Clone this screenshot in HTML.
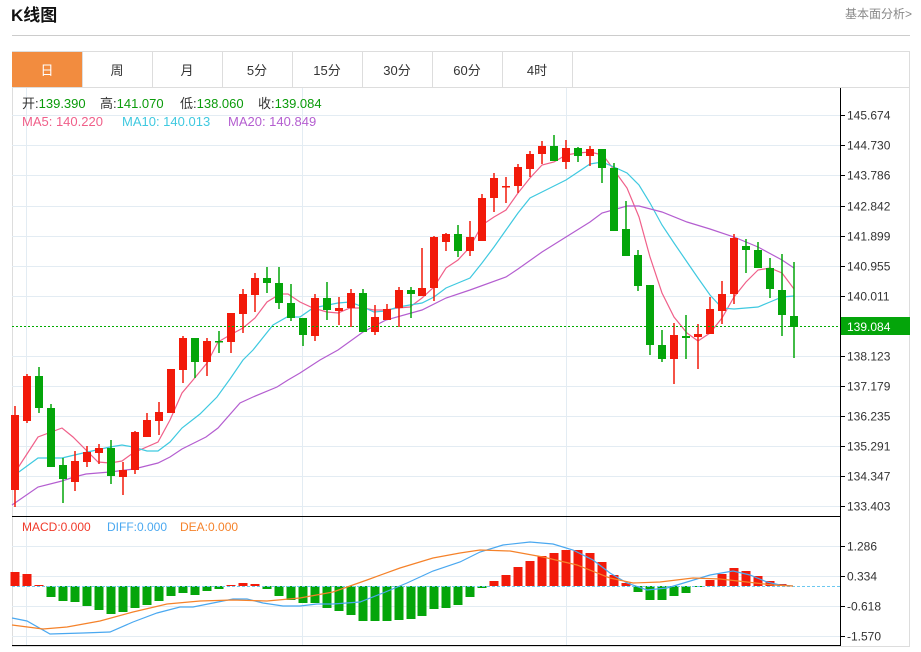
<!DOCTYPE html>
<html><head><meta charset="utf-8">
<style>
body{margin:0;background:#fff;width:921px;height:647px;overflow:hidden;font-family:"Liberation Sans","Noto Sans CJK SC",sans-serif;}
</style></head><body>
<svg id="s" width="921" height="647" xmlns="http://www.w3.org/2000/svg" font-family="Liberation Sans, Noto Sans CJK SC, sans-serif">
<text x="11" y="21" font-size="17" font-weight="bold" fill="#111">K线图</text>
<text x="912" y="18" font-size="12" fill="#888" text-anchor="end">基本面分析&gt;</text>
<line x1="12" y1="35.5" x2="910" y2="35.5" stroke="#ccc"/>
<rect x="12.5" y="51.5" width="897" height="595" fill="none" stroke="#ddd"/>
<line x1="12" y1="87.5" x2="910" y2="87.5" stroke="#ddd"/>
<rect x="12" y="52" width="70" height="35" fill="#f28c3f"/>
<g id="tabs" font-size="13" fill="#333" text-anchor="middle"></g>
<g id="grid"></g>
<g id="ma"></g>
<g id="candles"></g>
<g id="macd"></g>
<line x1="12" y1="516.5" x2="840" y2="516.5" stroke="#000"/>
<line x1="12" y1="645.5" x2="840" y2="645.5" stroke="#000"/>
<line x1="840.5" y1="88" x2="840.5" y2="646" stroke="#000"/>
<line x1="12" y1="326.5" x2="840" y2="326.5" stroke="#0a0" stroke-dasharray="2,2"/>
<rect x="841" y="317" width="69" height="18" fill="#04a50a"/>
<text x="847" y="331" font-size="12" fill="#fff">139.084</text>
<g font-size="13">
<text x="22" y="108" fill="#333">开:<tspan fill="#0a9b0a">139.390</tspan></text>
<text x="100" y="108" fill="#333">高:<tspan fill="#0a9b0a">141.070</tspan></text>
<text x="180" y="108" fill="#333">低:<tspan fill="#0a9b0a">138.060</tspan></text>
<text x="258" y="108" fill="#333">收:<tspan fill="#0a9b0a">139.084</tspan></text>
<text x="22" y="126" fill="#f0608a">MA5: 140.220</text>
<text x="122" y="126" fill="#3fc9e0">MA10: 140.013</text>
<text x="228" y="126" fill="#b45ed0">MA20: 140.849</text>
</g>
<g font-size="12">
<text x="22" y="531" fill="#f03a2a">MACD:0.000</text>
<text x="107" y="531" fill="#4aa8f0">DIFF:0.000</text>
<text x="180" y="531" fill="#f5822a">DEA:0.000</text>
</g>
</svg>
<script>
var NS="http://www.w3.org/2000/svg";
function el(p,t,a,txt){var e=document.createElementNS(NS,t);for(var k in a)e.setAttribute(k,a[k]);if(txt)e.textContent=txt;document.getElementById(p).appendChild(e);return e;}
var tabs=["日","周","月","5分","15分","30分","60分","4时"];
tabs.forEach(function(t,i){var x=12+i*70;el("tabs","line",{x1:x+70.5,y1:52,x2:x+70.5,y2:87,stroke:"#ddd"});el("tabs","text",{x:x+35,y:75,fill:i==0?"#fff":"#333"},t);});
var pl=[["145.674",115],["144.730",145],["143.786",175],["142.842",206],["141.899",236],["140.955",266],["140.011",296],["138.123",356],["137.179",386],["136.235",416],["135.291",446],["134.347",476],["133.403",506]];
pl.forEach(function(p){el("grid","line",{x1:12,y1:p[1]+.5,x2:840,y2:p[1]+.5,stroke:"#e3ecf3"});el("grid","line",{x1:840,y1:p[1]+.5,x2:845,y2:p[1]+.5,stroke:"#000"});el("grid","text",{x:847,y:p[1]+4.5,"font-size":12,fill:"#333"},p[0]);});
[["1.286",546],["0.334",576],["-0.618",606],["-1.570",636]].forEach(function(p){el("grid","line",{x1:12,y1:p[1]+.5,x2:840,y2:p[1]+.5,stroke:"#e3ecf3"});el("grid","line",{x1:840,y1:p[1]+.5,x2:845,y2:p[1]+.5,stroke:"#000"});el("grid","text",{x:847,y:p[1]+4.5,"font-size":12,fill:"#333"},p[0]);});
[26.5,302.5,566.5].forEach(function(x){el("grid","line",{x1:x,y1:88,x2:x,y2:646,stroke:"#e3ecf3"});});
var C=[["r",415,490,406,507],["r",376,421,374,423],["g",376,408,367,413],["g",408,467,404,467],["g",465,479,458,503],["r",461,482,451,491],["r",452,462,446,467],["r",448,453,444,464],["g",448,476,440,484],["r",470,477,462,495],["r",432,470,431,474],["r",420,437,413,437],["r",412,421,402,435],["r",369,413,369,413],["r",338,370,336,383],["g",338,362,338,378],["r",341,362,338,376],["g",341,342,331,353],["r",313,342,313,353],["r",294,314,289,333],["r",278,295,273,312],["g",278,283,267,293],["g",283,303,267,309],["g",303,318,284,321],["g",318,335,318,346],["r",298,336,294,341],["g",298,310,282,320],["r",308,311,297,325],["r",293,308,289,327],["g",293,332,289,332],["r",317,332,305,335],["r",309,320,304,320],["r",290,308,287,327],["g",290,294,287,318],["r",288,296,248,296],["r",237,288,236,301],["r",234,242,233,251],["g",234,251,225,257],["r",237,251,221,256],["r",198,241,194,241],["r",178,198,173,212],["r",186,187,177,203],["r",167,186,164,193],["r",154,169,151,177],["r",146,154,141,164],["g",146,161,135,161],["r",148,162,140,169],["g",148,156,147,162],["r",149,156,146,166],["g",149,168,149,183],["g",168,231,163,231],["g",229,256,201,256],["g",255,286,250,291],["g",285,345,285,355],["g",345,359,330,362],["r",335,359,323,384],["g",336,338,315,359],["r",334,337,324,369],["r",309,334,297,334],["r",294,311,281,324],["r",238,294,234,304],["g",246,250,239,273],["g",250,268,242,268],["g",268,289,258,298],["g",290,315,254,336],["g",316,327,262,358]];
var RED="#f21a0a",GRN="#04a50a";
C.forEach(function(c,i){var x=Math.round(15+i*11.985);var col=c[0]=="r"?RED:GRN;
el("candles","rect",{x:x-0.75,y:c[3],width:1.5,height:c[4]-c[3],fill:col});
el("candles","rect",{x:x-4,y:c[1],width:8,height:Math.max(1.5,c[2]-c[1]),fill:col});});
function pl2(g,pts,col,w){el(g,"polyline",{points:pts,fill:"none",stroke:col,"stroke-width":w||1.2});}
pl2("ma","12,477 38,437 62,428 73,437 98,462 110,463 122,461 133,453 158,442 170,420 182,393 193,380 207,363 218,342 230,335 243,328 255,318 267,302 280,294 288,294 300,302 313,308 327,312 338,313 350,308 363,308 374,310 386,310 398,308 410,307 422,298 434,287 446,268 458,260 470,247 482,225 494,217 506,210 518,193 530,178 542,165 554,162 566,155 578,153 590,152 603,155 614,170 627,188 639,217 650,257 662,293 674,317 687,333 698,341 710,333 722,318 734,297 746,282 758,270 770,268 782,273 794,289","#f0608a");
pl2("ma","12,477 38,458 62,458 83,453 110,447 122,445 133,447 147,451 158,451 170,442 182,428 200,414 217,397 230,379 243,360 253,350 273,325 287,317 300,317 313,308 338,303 350,302 363,307 374,312 386,311 398,307 410,305 422,303 434,297 446,288 458,283 470,278 482,263 494,247 506,230 518,213 530,198 542,192 554,186 566,180 578,172 590,164 602,162 614,167 627,173 639,185 650,203 662,225 674,243 687,262 698,278 710,295 722,308 734,309 746,308 758,307 770,302 782,297 794,296","#3fc9e0");
pl2("ma","12,505 38,487 62,481 74,477 86,474 110,472 134,469 158,463 170,457 182,449 206,437 218,428 240,403 253,397 277,387 288,380 300,373 320,360 338,350 363,332 386,320 422,310 446,298 470,290 506,277 518,269 542,252 566,237 590,222 602,213 627,206 639,206 662,212 687,222 710,229 734,237 758,247 782,260 794,268","#b45ed0");
var M=[572,574,585,597,601,602,606,610,614,612,608,605,601,596,593,595,591,589,585,583,584,589,596,600,603,603,608,611,615,621,621,621,620,619,616,609,608,605,597,588,581,575,567,561,556,553,550,550,553,562,575,583,592,600,600,596,593,587,580,574,568,571,576,581,584,586];
var Z=586;
M.forEach(function(v,i){var x=Math.round(15+i*11.985);if(Math.abs(v-Z)<0.5)return;var col=v<Z?RED:GRN;el("macd","rect",{x:x-4.5,y:Math.min(v,Z),width:9,height:Math.max(1,Math.abs(v-Z)),fill:col});});
el("macd","line",{x1:12,y1:Z+.5,x2:840,y2:Z+.5,stroke:"#6cc8f0","stroke-dasharray":"3,2","stroke-width":1});
pl2("macd","12,618 27,621 50,634 83,633 110,632 133,622 157,613 180,607 193,607 213,603 233,599 247,599 263,603 283,606 300,606 317,604 333,604 360,602 383,593 407,583 433,571 460,562 480,552 503,545 530,542 553,544 573,550 593,560 610,573 627,583 647,590 667,588 687,582 710,575 733,571 750,575 767,582 780,585 793,586","#4aa8f0");
pl2("macd","12,625 43,629 67,627 100,621 133,612 167,604 200,601 233,600 267,601 300,598 333,592 367,580 400,568 433,558 460,553 480,550 510,551 543,557 577,565 610,578 633,583 660,582 693,578 720,579 747,582 773,585 793,586","#f5822a");
</script>
</body></html>
